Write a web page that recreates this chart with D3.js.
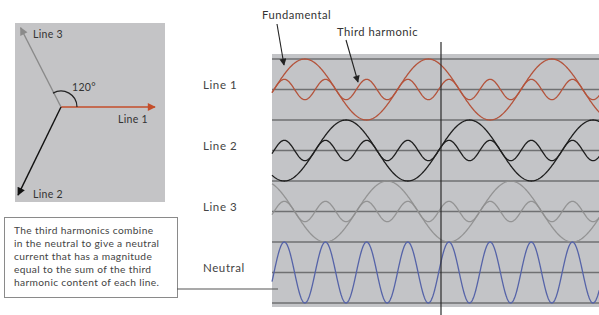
<!DOCTYPE html>
<html>
<head>
<meta charset="utf-8">
<script src="https://cdn.jsdelivr.net/npm/d3@7"></script>
<style>
  html, body { margin: 0; padding: 0; background: #fff; }
  svg { display: block; font-family: Lato, "Open Sans", sans-serif; }
</style>
</head>
<body>
<div id="chart"></div>
<script>
// waveform rows and their phase relationship (degrees of fundamental)
var rows = ["Line 1", "Line 2", "Line 3", "Neutral"];
var phaseShift = [0, -120, -240, 0];
var fundamentalAmp = [1, 1, 1, 0];
var thirdAmp = [1 / 3, 1 / 3, 1 / 3, 0];
thirdAmp[3] = d3.sum(thirdAmp.slice(0, 3)); // neutral = sum of third harmonics

// phasor diagram (angles as drawn in the picture)
var phasorNames = ["Line 1", "Line 2", "Line 3"];
var phasorAngles = [0, 244, 117];
var phasorLengths = [94, 98, 89];
var angleLabel = "120°";

var boxText = [
  "The third harmonics combine",
  "in the neutral to give a neutral",
  "current that has a magnitude",
  "equal to the sum of the third",
  "harmonic content of each line."
];

var lineColors = ["#b4533b", "#1e1e1e", "#8e8e8e", "#5563a8"];

var width = 599, height = 315;
var svg = d3.select("#chart").append("svg")
  .attr("width", width).attr("height", height);

// ---- phasor box ----
var pg = svg.append("g");
pg.append("rect").attr("x", 15).attr("y", 23).attr("width", 150).attr("height", 179)
  .attr("fill", "#c4c4c6");

var defs = svg.append("defs");
[["ar1", "#c44e2a"], ["ar2", "#111"], ["ar3", "#8a8a8a"]].forEach(function (m) {
  defs.append("marker").attr("id", m[0]).attr("viewBox", "0 0 10 10")
    .attr("refX", 9).attr("refY", 5).attr("markerWidth", 10).attr("markerHeight", 8)
    .attr("markerUnits", "userSpaceOnUse").attr("orient", "auto")
    .append("path").attr("d", "M0,0L10,5L0,10z").attr("fill", m[1]);
});
var cx = 61, cy = 107;
var phasorCol = ["#c44e2a", "#111", "#8a8a8a"];
phasorNames.forEach(function (n, i) {
  var a = phasorAngles[i] * Math.PI / 180;
  pg.append("line").attr("x1", cx).attr("y1", cy)
    .attr("x2", cx + phasorLengths[i] * Math.cos(a))
    .attr("y2", cy - phasorLengths[i] * Math.sin(a))
    .attr("stroke", phasorCol[i]).attr("stroke-width", 1.4)
    .attr("marker-end", "url(#ar" + (i + 1) + ")");
});
var arc = d3.arc()({ innerRadius: 16, outerRadius: 16, startAngle: Math.PI / 2, endAngle: -Math.PI / 6 });
pg.append("path").attr("d", arc).attr("transform", "translate(" + cx + "," + cy + ")")
  .attr("fill", "none").attr("stroke", "#222").attr("stroke-width", 1.2);
var ptext = pg.append("g").attr("font-size", 10.5).attr("fill", "#333").attr("letter-spacing", 0.3);
ptext.append("text").attr("x", 72).attr("y", 91).text(angleLabel);
ptext.append("text").attr("x", 118).attr("y", 123).text(phasorNames[0]);
ptext.append("text").attr("x", 33).attr("y", 198).text(phasorNames[1]);
ptext.append("text").attr("x", 33).attr("y", 38).text(phasorNames[2]);

// ---- waveform panel ----
var panelLeft = 272, panelTop = 54, panelBottom = 307;
svg.append("rect").attr("x", panelLeft).attr("y", panelTop)
  .attr("width", width - panelLeft).attr("height", panelBottom - panelTop)
  .attr("fill", "#c3c4c7");

var x = d3.scaleLinear().domain([0, 360]).range([274, 397.5]);
var band = d3.scaleBand().domain(rows).range([59, 303]);
var bw = band.bandwidth();

// grid lines (band edges and centres)
var gridYs = [];
rows.forEach(function (r) { gridYs.push(band(r), band(r) + bw / 2); });
gridYs.push(band(rows[rows.length - 1]) + bw);
svg.append("g").selectAll("line").data(gridYs).join("line")
  .attr("x1", panelLeft).attr("x2", width)
  .attr("y1", function (d) { return d; }).attr("y2", function (d) { return d; })
  .attr("stroke", "#6f7072").attr("stroke-width", 1.4);

var thetas = d3.range(x.invert(panelLeft), x.invert(width) + 1, 1.5);
var rad = Math.PI / 180;

rows.forEach(function (r, i) {
  var y = d3.scaleLinear().domain([-1, 1]).range([band(r) + bw, band(r)]);
  var line = d3.line()
    .x(function (d) { return x(d[0]); })
    .y(function (d) { return y(d[1]); });
  var comps = [];
  if (fundamentalAmp[i] > 0) comps.push(thetas.map(function (t) {
    return [t, fundamentalAmp[i] * Math.sin((t + phaseShift[i]) * rad)];
  }));
  comps.push(thetas.map(function (t) {
    return [t, thirdAmp[i] * Math.sin(3 * (t + phaseShift[i]) * rad)];
  }));
  comps.forEach(function (c) {
    svg.append("path").attr("d", line(c)).attr("fill", "none")
      .attr("stroke", lineColors[i]).attr("stroke-width", 1.3)
      .attr("stroke-opacity", i === 2 ? 0.9 : 1);
  });
  svg.append("text").attr("x", 203).attr("y", band(r) + bw / 2 - 1)
    .attr("font-size", 11.5).attr("letter-spacing", 0.6).attr("fill", "#444").text(r);
});

// vertical marker
svg.append("line").attr("x1", 441).attr("x2", 441).attr("y1", 42).attr("y2", 315)
  .attr("stroke", "#2a2a2a").attr("stroke-width", 1.2);

// annotations
svg.append("text").attr("x", 262).attr("y", 19).attr("font-size", 11.2).attr("letter-spacing", 0.5)
  .attr("fill", "#333").text("Fundamental");
svg.append("text").attr("x", 337).attr("y", 36).attr("font-size", 11.2).attr("letter-spacing", 0.5)
  .attr("fill", "#333").text("Third harmonic");
defs.append("marker").attr("id", "ptr").attr("viewBox", "0 0 10 10")
  .attr("refX", 9).attr("refY", 5).attr("markerWidth", 8).attr("markerHeight", 7)
  .attr("markerUnits", "userSpaceOnUse").attr("orient", "auto")
  .append("path").attr("d", "M0,0L10,5L0,10z").attr("fill", "#222");
svg.append("line").attr("x1", 277).attr("y1", 24).attr("x2", 284).attr("y2", 65)
  .attr("stroke", "#222").attr("stroke-width", 1.1).attr("marker-end", "url(#ptr)");
svg.append("line").attr("x1", 346).attr("y1", 40).attr("x2", 358).attr("y2", 82)
  .attr("stroke", "#222").attr("stroke-width", 1.1).attr("marker-end", "url(#ptr)");

// explanation box
svg.append("rect").attr("x", 4.5).attr("y", 217.5).attr("width", 173).attr("height", 80)
  .attr("fill", "#fff").attr("stroke", "#8a8a8a").attr("stroke-width", 1);
svg.append("g").selectAll("text").data(boxText).join("text")
  .attr("x", 14).attr("y", function (d, i) { return 234 + i * 13; })
  .attr("font-size", 10.2).attr("letter-spacing", 0.35).attr("fill", "#444").text(function (d) { return d; });
svg.append("line").attr("x1", 177).attr("x2", 278).attr("y1", 289).attr("y2", 289)
  .attr("stroke", "#555").attr("stroke-width", 1.1);
</script>
</body>
</html>
